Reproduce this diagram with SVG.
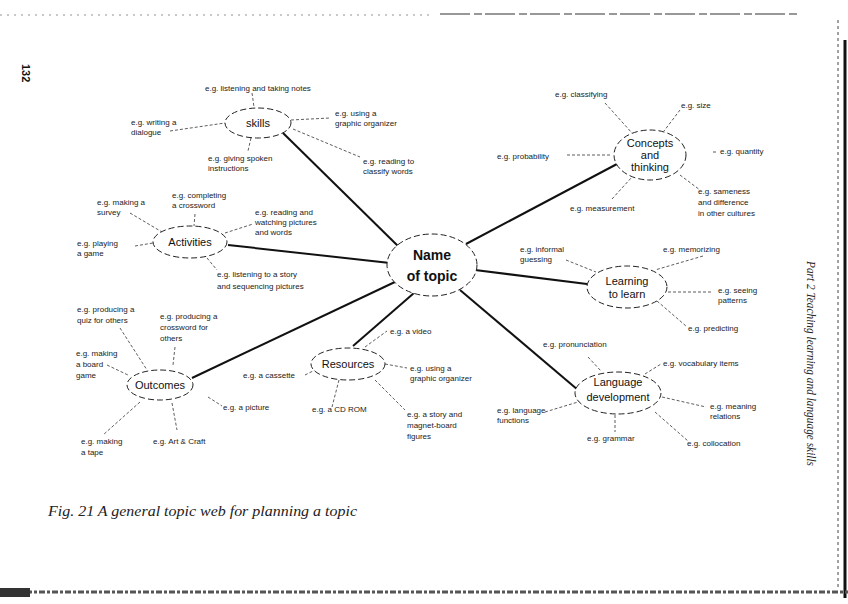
<svg xmlns="http://www.w3.org/2000/svg" width="848" height="604" viewBox="0 0 848 604">
<style>
.bg{fill:#fff}
.node{fill:#fff;stroke:#222;stroke-width:1;stroke-dasharray:6 3}
.main{stroke:#111;stroke-width:2;fill:none}
.sub{stroke:#333;stroke-width:0.8;stroke-dasharray:3 2;fill:none}
.lbl{font-family:"Liberation Sans",Arial,sans-serif;font-size:8px;fill:#222}
.nl{font-family:"Liberation Sans",Arial,sans-serif;font-size:11px;fill:#111;text-anchor:middle}
.ctr{font-family:"Liberation Sans",Arial,sans-serif;font-size:14px;font-weight:bold;fill:#111;text-anchor:middle}
.cap{font-family:"Liberation Serif","Times New Roman",serif;font-style:italic;fill:#222}
</style>
<rect class="bg" x="0" y="0" width="848" height="604"/>
<g id="page-edges">
<line x1="0" y1="15" x2="430" y2="15" stroke="#777" stroke-width="0.8" stroke-dasharray="2 5"/>
<line x1="440" y1="14" x2="800" y2="14" stroke="#333" stroke-width="1.2" stroke-dasharray="30 4 8 3"/>
<line x1="838" y1="20" x2="838" y2="590" stroke="#444" stroke-width="1" stroke-dasharray="3 3"/>
<line x1="845" y1="40" x2="845" y2="598" stroke="#111" stroke-width="3"/>
<line x1="0" y1="592" x2="848" y2="592" stroke="#555" stroke-width="3" stroke-dasharray="6 2 3 2"/>
<rect x="0" y="588" width="30" height="9" fill="#333"/>
<text x="22" y="64" transform="rotate(90 22 64)" font-family="Liberation Sans,Arial,sans-serif" font-weight="bold" font-size="11" fill="#111">132</text>
<text x="807" y="261" transform="rotate(90 807 261)" class="cap" font-size="12" textLength="205" lengthAdjust="spacingAndGlyphs">Part 2  Teaching learning and language skills</text>
</g>
<g id="connectors">
<line class="main" x1="400" y1="248" x2="283" y2="133"/>
<line class="main" x1="466" y1="244" x2="617" y2="164"/>
<line class="main" x1="390" y1="263" x2="228" y2="245"/>
<line class="main" x1="475" y1="270" x2="587" y2="284"/>
<line class="main" x1="397" y1="281" x2="192" y2="378"/>
<line class="main" x1="414" y1="293" x2="353" y2="346"/>
<line class="main" x1="460" y1="290" x2="578" y2="390"/>
<!-- skills -->
<line class="sub" x1="252" y1="93" x2="254" y2="107"/>
<line class="sub" x1="170" y1="131" x2="225" y2="123"/>
<line class="sub" x1="251" y1="138" x2="248" y2="151"/>
<line class="sub" x1="291" y1="120" x2="330" y2="118"/>
<line class="sub" x1="293" y1="129" x2="360" y2="157"/>
<!-- concepts -->
<line class="sub" x1="605" y1="103" x2="632" y2="133"/>
<line class="sub" x1="680" y1="110" x2="664" y2="131"/>
<line class="sub" x1="567" y1="155" x2="612" y2="155"/>
<line class="sub" x1="713" y1="152" x2="716" y2="152"/>
<line class="sub" x1="680" y1="175" x2="700" y2="190"/>
<line class="sub" x1="612" y1="199" x2="632" y2="177"/>
<!-- activities -->
<line class="sub" x1="130" y1="213" x2="162" y2="232"/>
<line class="sub" x1="195" y1="214" x2="194" y2="226"/>
<line class="sub" x1="225" y1="233" x2="253" y2="224"/>
<line class="sub" x1="135" y1="246" x2="153" y2="243"/>
<line class="sub" x1="207" y1="258" x2="217" y2="270"/>
<!-- learning -->
<line class="sub" x1="566" y1="260" x2="596" y2="272"/>
<line class="sub" x1="703" y1="256" x2="655" y2="270"/>
<line class="sub" x1="668" y1="292" x2="713" y2="292"/>
<line class="sub" x1="657" y1="301" x2="686" y2="326"/>
<!-- language -->
<line class="sub" x1="588" y1="357" x2="601" y2="371"/>
<line class="sub" x1="645" y1="374" x2="661" y2="364"/>
<line class="sub" x1="662" y1="397" x2="706" y2="407"/>
<line class="sub" x1="545" y1="412" x2="578" y2="402"/>
<line class="sub" x1="615" y1="415" x2="615" y2="432"/>
<line class="sub" x1="655" y1="412" x2="688" y2="441"/>
<!-- outcomes -->
<line class="sub" x1="120" y1="328" x2="147" y2="370"/>
<line class="sub" x1="175" y1="347" x2="173" y2="365"/>
<line class="sub" x1="107" y1="365" x2="128" y2="375"/>
<line class="sub" x1="208" y1="397" x2="222" y2="406"/>
<line class="sub" x1="172" y1="403" x2="177" y2="430"/>
<line class="sub" x1="140" y1="402" x2="103" y2="435"/>
<!-- resources -->
<line class="sub" x1="365" y1="347" x2="387" y2="331"/>
<line class="sub" x1="385" y1="364" x2="407" y2="368"/>
<line class="sub" x1="305" y1="375" x2="315" y2="370"/>
<line class="sub" x1="339" y1="380" x2="332" y2="407"/>
<line class="sub" x1="375" y1="380" x2="405" y2="410"/>
</g>
<g id="center">
<ellipse class="node" cx="432" cy="265" rx="45" ry="31"/>
<text class="ctr" x="432" y="260">Name</text>
<text class="ctr" x="432" y="281">of topic</text>
</g>
<g id="skills">
<ellipse class="node" cx="258" cy="123" rx="33" ry="15"/>
<text class="nl" x="258" y="127" font-size="10">skills</text>
<text class="lbl" x="205" y="91">e.g. listening and taking notes</text>
<text class="lbl" x="131" y="125">e.g. writing a</text>
<text class="lbl" x="131" y="135">dialogue</text>
<text class="lbl" x="208" y="161">e.g. giving spoken</text>
<text class="lbl" x="208" y="171">instructions</text>
<text class="lbl" x="335" y="116">e.g. using a</text>
<text class="lbl" x="335" y="126">graphic organizer</text>
<text class="lbl" x="363" y="164">e.g. reading to</text>
<text class="lbl" x="363" y="174">classify words</text>
</g>
<g id="concepts">
<ellipse class="node" cx="650" cy="155" rx="36" ry="25"/>
<text class="nl" x="650" y="147">Concepts</text>
<text class="nl" x="650" y="159">and</text>
<text class="nl" x="650" y="171">thinking</text>
<text class="lbl" x="555" y="97">e.g. classifying</text>
<text class="lbl" x="681" y="108">e.g. size</text>
<text class="lbl" x="497" y="159">e.g. probability</text>
<text class="lbl" x="720" y="154">e.g. quantity</text>
<text class="lbl" x="698" y="194">e.g. sameness</text>
<text class="lbl" x="698" y="205">and difference</text>
<text class="lbl" x="698" y="216">in other cultures</text>
<text class="lbl" x="570" y="211">e.g. measurement</text>
</g>
<g id="activities">
<ellipse class="node" cx="190" cy="242" rx="37" ry="16"/>
<text class="nl" x="190" y="246">Activities</text>
<text class="lbl" x="97" y="205">e.g. making a</text>
<text class="lbl" x="97" y="215">survey</text>
<text class="lbl" x="172" y="198">e.g. completing</text>
<text class="lbl" x="172" y="208">a crossword</text>
<text class="lbl" x="255" y="215">e.g. reading and</text>
<text class="lbl" x="255" y="225">watching pictures</text>
<text class="lbl" x="255" y="235">and words</text>
<text class="lbl" x="77" y="246">e.g. playing</text>
<text class="lbl" x="77" y="256">a game</text>
<text class="lbl" x="217" y="277">e.g. listening to a story</text>
<text class="lbl" x="217" y="289">and sequencing pictures</text>
</g>
<g id="learning">
<ellipse class="node" cx="627" cy="287" rx="40" ry="21"/>
<text class="nl" x="627" y="285">Learning</text>
<text class="nl" x="627" y="298">to learn</text>
<text class="lbl" x="520" y="252">e.g. informal</text>
<text class="lbl" x="520" y="262">guessing</text>
<text class="lbl" x="663" y="252">e.g. memorizing</text>
<text class="lbl" x="718" y="293">e.g. seeing</text>
<text class="lbl" x="718" y="303">patterns</text>
<text class="lbl" x="688" y="331">e.g. predicting</text>
</g>
<g id="language">
<ellipse class="node" cx="618" cy="393" rx="43" ry="21"/>
<text class="nl" x="618" y="386">Language</text>
<text class="nl" x="618" y="401">development</text>
<text class="lbl" x="543" y="347">e.g. pronunciation</text>
<text class="lbl" x="663" y="366">e.g. vocabulary items</text>
<text class="lbl" x="710" y="409">e.g. meaning</text>
<text class="lbl" x="710" y="419">relations</text>
<text class="lbl" x="497" y="413">e.g. language</text>
<text class="lbl" x="497" y="423">functions</text>
<text class="lbl" x="587" y="441">e.g. grammar</text>
<text class="lbl" x="687" y="446">e.g. collocation</text>
</g>
<g id="outcomes">
<ellipse class="node" cx="160" cy="385" rx="33" ry="15"/>
<text class="nl" x="160" y="389">Outcomes</text>
<text class="lbl" x="77" y="312">e.g. producing a</text>
<text class="lbl" x="77" y="323">quiz for others</text>
<text class="lbl" x="160" y="319">e.g. producing a</text>
<text class="lbl" x="160" y="330">crossword for</text>
<text class="lbl" x="160" y="341">others</text>
<text class="lbl" x="76" y="356">e.g. making</text>
<text class="lbl" x="76" y="367">a board</text>
<text class="lbl" x="76" y="378">game</text>
<text class="lbl" x="223" y="410">e.g. a picture</text>
<text class="lbl" x="153" y="444">e.g. Art &amp; Craft</text>
<text class="lbl" x="81" y="444">e.g. making</text>
<text class="lbl" x="81" y="455">a tape</text>
</g>
<g id="resources">
<ellipse class="node" cx="348" cy="364" rx="37" ry="16"/>
<text class="nl" x="348" y="368">Resources</text>
<text class="lbl" x="390" y="334">e.g. a video</text>
<text class="lbl" x="410" y="371">e.g. using a</text>
<text class="lbl" x="410" y="381">graphic organizer</text>
<text class="lbl" x="243" y="378">e.g. a cassette</text>
<text class="lbl" x="312" y="412">e.g. a CD ROM</text>
<text class="lbl" x="407" y="417">e.g. a story and</text>
<text class="lbl" x="407" y="428">magnet-board</text>
<text class="lbl" x="407" y="439">figures</text>
</g>
<text class="cap" x="48" y="516" font-size="15" textLength="309" lengthAdjust="spacingAndGlyphs">Fig. 21  A general topic web for planning a topic</text>
</svg>
